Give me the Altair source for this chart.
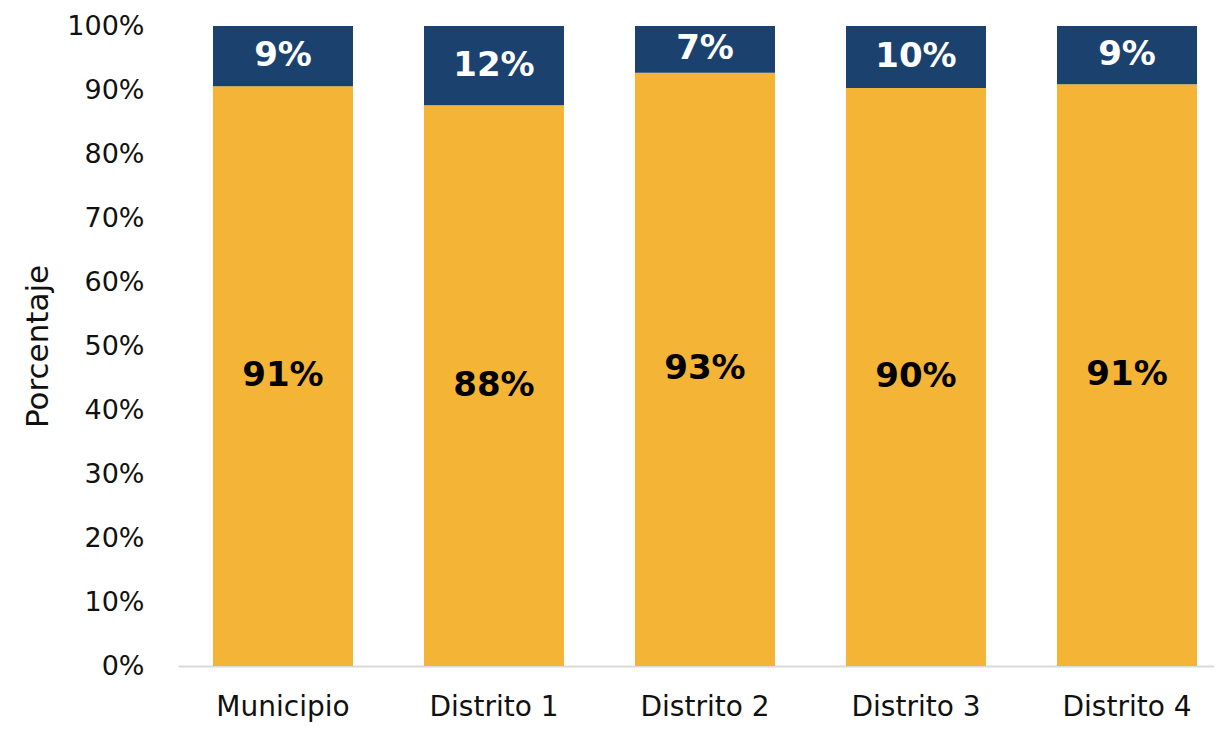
import altair as alt
import pandas as pd

categories = ["Municipio", "Distrito 1", "Distrito 2", "Distrito 3", "Distrito 4"]
si_values = [90.6, 87.6, 92.7, 90.3, 90.9]
no_values = [9.4, 12.4, 7.3, 9.7, 9.1]
series_names = ["Sí", "No"]
series_colors = ["#F4B436", "#1B426F"]
y_ticks = [0, 10, 20, 30, 40, 50, 60, 70, 80, 90, 100]

rows = []
for cat, a, b in zip(categories, si_values, no_values):
    rows.append({"cat": cat, "serie": series_names[0], "orden": 0, "start": 0, "end": a,
                 "mid": a / 2, "label": f"{round(a)}%"})
    rows.append({"cat": cat, "serie": series_names[1], "orden": 1, "start": a, "end": a + b,
                 "mid": a + b / 2, "label": f"{round(b)}%"})
df = pd.DataFrame(rows)

FONT = "DejaVu Sans"

x_enc = alt.X(
    "cat:N", sort=categories, title=None,
    scale=alt.Scale(paddingInner=0.3365, paddingOuter=0.1232, align=0.673),
    axis=alt.Axis(labelAngle=0, labelFont=FONT, labelFontSize=28, labelColor="#111111",
                  labelPadding=27, ticks=False, domainColor="#D9D9D9", domainWidth=2),
)

bars = alt.Chart(df).mark_bar().encode(
    x=x_enc,
    y=alt.Y("start:Q", scale=alt.Scale(domain=[0, 100], nice=False),
            title="Porcentaje",
            axis=alt.Axis(values=y_ticks, labelExpr="datum.value + '%'", grid=False,
                          ticks=False, domain=False, labelFont=FONT, labelFontSize=27,
                          labelColor="#111111", labelPadding=34, titleFont=FONT,
                          titleFontSize=31, titleFontWeight="normal", titleColor="#111111",
                          titlePadding=12)),
    y2="end:Q",
    color=alt.Color("serie:N", scale=alt.Scale(domain=series_names, range=series_colors),
                    legend=None),
)

text_si = alt.Chart(df[df["orden"] == 0]).mark_text(
    font=FONT, fontSize=34, fontWeight="bold", color="#000000", baseline="middle"
).encode(x=alt.X("cat:N", sort=categories), y=alt.Y("mid:Q"), text="label:N")

text_no = alt.Chart(df[df["orden"] == 1]).mark_text(
    font=FONT, fontSize=34, fontWeight="bold", color="#FFFFFF", baseline="middle"
).encode(x=alt.X("cat:N", sort=categories), y=alt.Y("mid:Q"), text="label:N")

chart = alt.layer(bars, text_si, text_no).properties(
    width=1036, height=640,
    background="white",
    autosize=alt.AutoSizeParams(type="none"),
    padding={"left": 170, "top": 18, "right": 0, "bottom": 57},
).configure_view(stroke=None, strokeWidth=0)

chart.save("out.html", embed_options={"renderer": "svg", "actions": False})
